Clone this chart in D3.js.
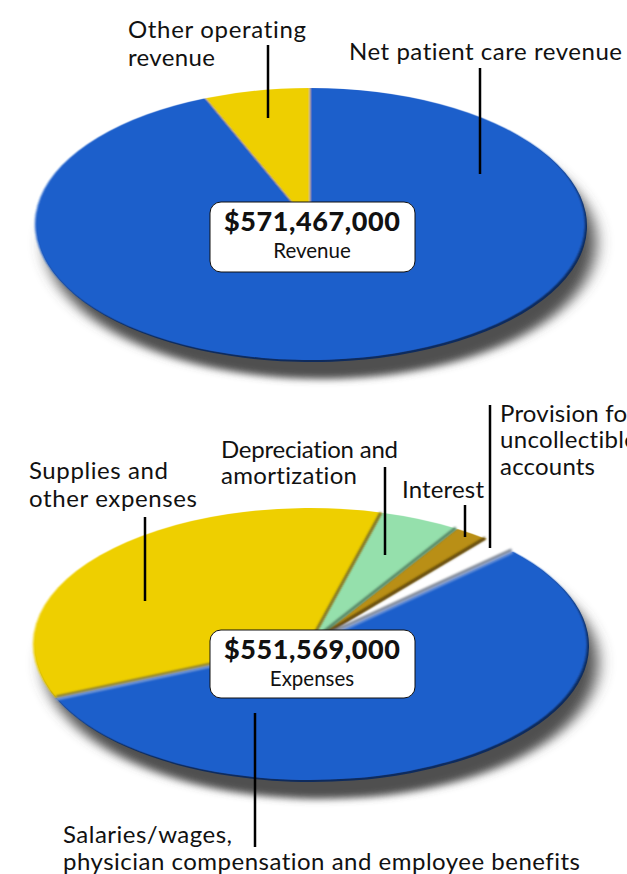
<!DOCTYPE html>
<html lang="en">
<head>
<meta charset="utf-8">
<title>Revenue and expenses</title>
<script src="https://cdn.jsdelivr.net/npm/d3@7"></script>
<style>
  html, body { margin: 0; padding: 0; background: #fff; overflow: hidden; }
  svg { display: block; }
  text { font-family: Lato, "Open Sans", sans-serif; fill: #111; font-variant-ligatures: none; }
</style>
</head>
<body>
<svg id="chart" width="627" height="874"></svg>
<script>
// shares, in dollars
var revenueNames = ["Net patient care revenue", "Other operating revenue"];
var revenueValues = [536000000, 35467000];
var revenueColors = ["#1f5fcb", "#eecf00"];

var expenseNames = ["Salaries/wages", "Supplies and other expenses", "Depreciation and amortization", "Interest", "Provision for uncollectible accounts"];
var expenseValues = [305600000, 197000000, 26000000, 11500000, 11469000];
var expenseColors = ["#1f5fcb", "#eecf00", "#95e0ac", "#b98f12", "#ffffff"];

var totals = ["$571,467,000", "$551,569,000"];
var totalNames = ["Revenue", "Expenses"];

var svg = d3.select("#chart");
var defs = svg.append("defs");

defs.append("filter").attr("id", "shadowBlur")
  .attr("x", "-20%").attr("y", "-20%").attr("width", "140%").attr("height", "140%")
  .append("feGaussianBlur").attr("stdDeviation", 8);
defs.append("filter").attr("id", "edgeBlur")
  .attr("x", "-10%").attr("y", "-10%").attr("width", "120%").attr("height", "120%")
  .append("feGaussianBlur").attr("stdDeviation", 1);

function drawPie(cfg) {
  var pie = d3.pie().sort(null)
    .startAngle(cfg.start)
    .endAngle(cfg.start + 2 * Math.PI);
  var arcs = pie(cfg.values);
  var arc = d3.arc().innerRadius(0).outerRadius(cfg.rx);
  var sy = cfg.ry / cfg.rx;

  // soft drop shadow under the whole pie
  var noWhite = arcs.filter(function(d, i) { return cfg.colors[i] != "#ffffff"; });
  svg.append("g")
    .attr("transform", "translate(" + (cfg.cx + 11) + "," + (cfg.cy + 19) + ") scale(1," + sy + ")")
    .attr("filter", "url(#shadowBlur)")
    .selectAll("path").data(noWhite).enter().append("path")
    .attr("d", arc)
    .attr("fill", "#4f4f4f");

  // dark rim on the lower right edge of each slice
  svg.append("g")
    .attr("transform", "translate(" + (cfg.cx + 2) + "," + (cfg.cy + 2) + ") scale(1," + sy + ")")
    .selectAll("path").data(noWhite).enter().append("path")
    .attr("d", arc)
    .attr("fill", function(d) { return d3.color(cfg.colors[d.index]).darker(2.2); });

  svg.append("g")
    .attr("transform", "translate(" + cfg.cx + "," + cfg.cy + ") scale(1," + sy + ")")
    .attr("filter", "url(#edgeBlur)")
    .selectAll("path").data(arcs).enter().append("path")
    .attr("d", arc)
    .attr("fill", function(d, i) { return cfg.colors[i]; });

  // lines along the slice boundaries, in screen coordinates
  if (cfg.seams) {
    svg.append("g").attr("filter", "url(#edgeBlur)")
      .selectAll("line").data(cfg.seams).enter().append("line")
      .attr("x1", function(s) { return cfg.cx + s.dx; })
      .attr("y1", function(s) { return cfg.cy + s.dy; })
      .attr("x2", function(s) { return cfg.cx + s.dx + cfg.rx * Math.sin(arcs[s.at].startAngle); })
      .attr("y2", function(s) { return cfg.cy + s.dy - cfg.ry * Math.cos(arcs[s.at].startAngle); })
      .attr("stroke", function(s) { return s.color; })
      .attr("stroke-width", function(s) { return s.w; });
  }
}

drawPie({ cx: 310, cy: 224, rx: 275, ry: 136, values: revenueValues, colors: revenueColors,
  start: 0 });
drawPie({ cx: 310, cy: 644, rx: 277, ry: 136, values: expenseValues, colors: expenseColors,
  start: 47 * Math.PI / 180, seams: [
    { at: 1, dx: 0, dy: -1.5, color: "#6f6a3c", w: 2 },
    { at: 1, dx: 0, dy: 1, color: "#8fa9d8", w: 2 },
    { at: 2, dx: -1, dy: 0, color: "#6e6620", w: 2.5 },
    { at: 3, dx: -1, dy: -1, color: "#4f7a5c", w: 2.5 },
    { at: 4, dx: -1, dy: -1, color: "#5e4708", w: 3 },
    { at: 0, dx: -1, dy: -1.5, color: "#77808f", w: 2.5 },
    { at: 0, dx: 0, dy: 1, color: "#7fa0dc", w: 2 }
  ] });

// total boxes
var boxes = [{ y: 202, h: 70 }, { y: 630, h: 68 }];
boxes.forEach(function(b, i) {
  svg.append("rect").attr("x", 210).attr("y", b.y).attr("width", 205).attr("height", b.h)
    .attr("rx", 11).attr("fill", "#fff").attr("stroke", "#111").attr("stroke-width", 1);
  svg.append("text").attr("x", 312).attr("y", b.y + 29).attr("text-anchor", "middle")
    .attr("textLength", 176)
    .style("font-size", "27px").style("font-weight", 900).text(totals[i]);
  svg.append("text").attr("x", 312).attr("y", b.y + 56).attr("text-anchor", "middle")
    .style("font-size", "20.5px").text(totalNames[i]);
});

// labels: x, baseline, text, width in the picture
var labels = [
  [128, 38, "Other operating", 178], [128, 66, "revenue", 87],
  [349, 60, "Net patient care revenue", 273],
  [221, 458, "Depreciation and", 177], [221, 484, "amortization", 136],
  [402, 498, "Interest", 82],
  [500, 422, "Provision for", 136], [500, 448, "uncollectible", 137], [500, 475, "accounts", 95],
  [29, 479, "Supplies and", 139], [29, 507, "other expenses", 168],
  [63, 843, "Salaries/wages,", 169], [63, 870, "physician compensation and employee benefits", 517]
];
svg.append("g").selectAll("text").data(labels).enter().append("text")
  .attr("x", function(d) { return d[0]; })
  .attr("y", function(d) { return d[1]; })
  .attr("textLength", function(d) { return d[3]; })
  .style("font-size", "24px")
  .text(function(d) { return d[2]; });

// leader lines
var leaders = [
  [268, 45, 118], [480, 68, 174],
  [385, 467, 555], [465, 505, 537], [490, 405, 548],
  [145, 517, 601], [255, 713, 847]
];
svg.append("g").selectAll("line").data(leaders).enter().append("line")
  .attr("x1", function(d) { return d[0]; }).attr("x2", function(d) { return d[0]; })
  .attr("y1", function(d) { return d[1]; }).attr("y2", function(d) { return d[2]; })
  .attr("stroke", "#000").attr("stroke-width", 2.5);
</script>
</body>
</html>
